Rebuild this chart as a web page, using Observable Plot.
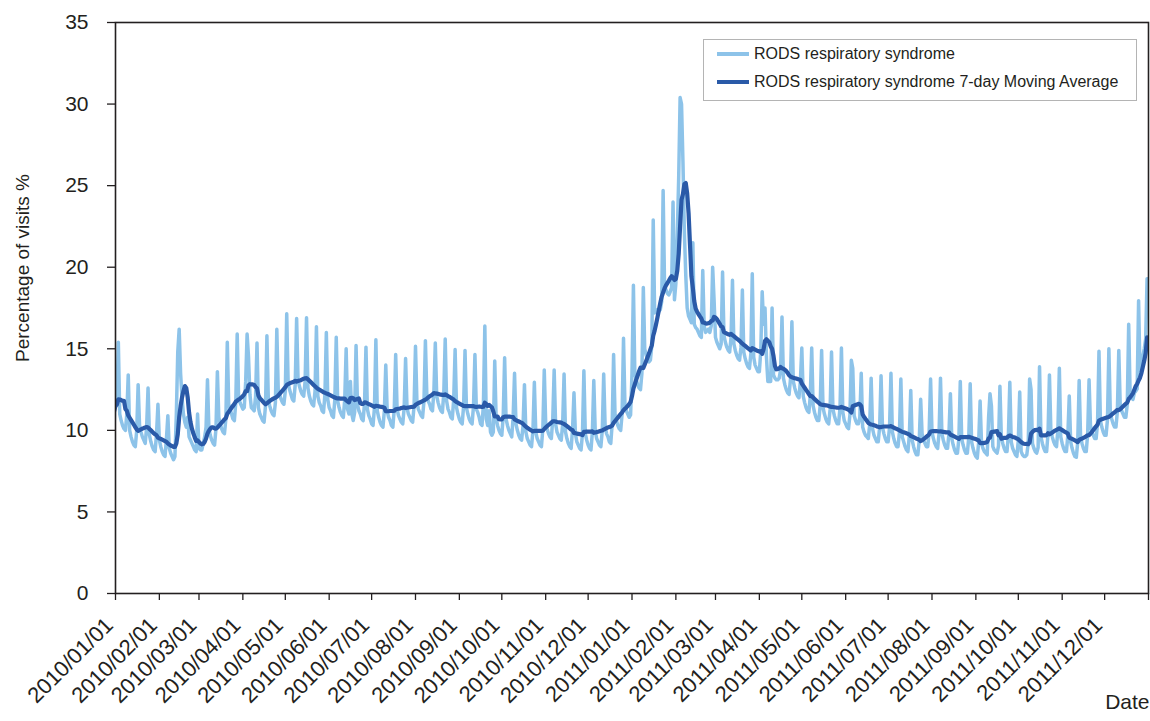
<!DOCTYPE html>
<html><head><meta charset="utf-8">
<script src="https://cdn.jsdelivr.net/npm/d3@7"></script>
<script src="https://cdn.jsdelivr.net/npm/@observablehq/plot@0.6"></script>
<style>
body{margin:0;background:#fff;}
#wrap{position:relative;width:1150px;height:721px;font-family:"Liberation Sans",Arial,sans-serif;}
#legend{position:absolute;left:703px;top:39px;width:432px;height:60px;border:1px solid #b4b4b4;background:#fff;font-size:16px;color:#231f20;}
.item{position:absolute;left:13px;display:flex;align-items:center;height:20px;}
.sw{width:32px;height:4.5px;margin-right:5px;}
</style></head><body><div id="wrap"></div>
<script>
// series names, colours
const seriesNames = ["RODS respiratory syndrome", "RODS respiratory syndrome 7-day Moving Average"];
const seriesColors = ["#8dc3e9", "#2a5aa8"];
const yLabel = "Percentage of visits %";
const xLabel = "Date";
const yTicks = [0, 5, 10, 15, 20, 25, 30, 35];
const monthTickLabels = ["2010/01/01","2010/02/01","2010/03/01","2010/04/01","2010/05/01","2010/06/01",
  "2010/07/01","2010/08/01","2010/09/01","2010/10/01","2010/11/01","2010/12/01",
  "2011/01/01","2011/02/01","2011/03/01","2011/04/01","2011/05/01","2011/06/01",
  "2011/07/01","2011/08/01","2011/09/01","2011/10/01","2011/11/01","2011/12/01"];
const axisStart = "2010/01/01";
const axisEnd = "2012/01/01";

// daily % of visits, starting 2009/12/26 (last days of 2009 feed the moving average)
const firstDay = "2009/12/26";
const daily2009 = [11.2, 13.2, 11.1, 10.8, 10.6, 10.1];
const daily2010 = [
  13.5, 11.8,
  15.4, 11.0, 10.6, 10.3, 10.1, 10.0, 11.0,
  13.4, 10.0, 9.6, 9.3, 9.1, 9.0, 10.0,
  12.8, 10.3, 9.9, 9.6, 9.4, 9.2, 10.2,
  12.6, 9.7, 9.3, 9.0, 8.8, 8.7, 9.8,
  11.6, 9.4, 9.0, 8.7, 8.5, 8.4, 9.5,
  10.9, 8.9, 8.6, 8.4, 8.2, 8.4, 11.0,
  14.8, 16.2, 13.5, 12.0, 11.0, 10.5, 10.2,
  10.8, 9.6, 9.4, 9.2, 9.0, 8.8, 8.7,
  11.0, 8.9, 8.8, 8.8, 9.2, 9.6, 10.2,
  13.1, 10.1, 9.7, 9.4, 9.2, 9.1, 10.1,
  13.6, 10.8, 10.4, 10.1, 9.9, 9.8, 10.7,
  15.4, 11.6, 11.3, 11.0, 10.7, 10.6, 11.7,
  15.9, 12.0, 11.7, 11.5, 11.3, 11.4, 13.0,
  15.9, 14.5, 12.2, 11.4, 11.3, 11.2, 12.1,
  15.35, 11.4, 11.0, 10.8, 10.6, 10.5, 11.5,
  15.8, 11.9, 11.5, 11.2, 11.0, 10.9, 11.7,
  16.2, 12.5, 12.2, 11.9, 11.7, 11.6, 12.4,
  17.15, 12.9, 12.5, 12.2, 11.9, 11.8, 12.8,
  16.85, 13.1, 12.7, 12.4, 12.2, 12.1, 13.0,
  16.9, 12.6, 12.1, 11.8, 11.6, 11.5, 12.4,
  16.35, 12.1, 11.7, 11.5, 11.2, 11.1, 12.2,
  16.0, 11.9, 11.4, 11.2, 10.9, 10.8, 11.9,
  15.7, 11.8, 11.4, 11.1, 10.9, 10.8, 11.9,
  15.0, 11.3, 11.0, 13.0, 11.0, 10.6, 11.1,
  15.2, 11.6, 11.2, 11.0, 10.7, 10.6, 11.7,
  15.1, 11.3, 10.9, 10.7, 10.4, 10.3, 11.4,
  15.55, 11.2, 10.8, 10.5, 10.3, 10.2, 11.2,
  14.0, 11.2, 10.8, 10.6, 10.3, 10.2, 11.3,
  14.65, 11.3, 10.9, 10.7, 10.5, 10.4, 11.4,
  14.4, 11.4, 11.0, 10.8, 10.6, 10.5, 11.5,
  15.15, 11.8, 11.3, 11.1, 10.9, 10.8, 11.8,
  15.5, 12.2, 11.8, 11.6, 11.3, 11.2, 12.4,
  15.35, 12.1, 11.7, 11.4, 11.2, 11.1, 12.3,
  15.6, 11.8, 11.3, 11.1, 10.8, 10.7, 11.9,
  14.95, 11.4, 11.0, 10.7, 10.5, 10.4, 11.5,
  14.9, 11.4, 11.0, 10.7, 10.5, 10.4, 11.5,
  14.65, 11.3, 11.1, 10.8, 10.4, 10.3, 11.6,
  16.4, 10.7, 10.3, 11.2, 9.9, 9.7, 9.9,
  14.25, 10.7, 10.3, 10.0, 9.8, 9.7, 10.9,
  14.45, 10.7, 10.3, 10.0, 9.8, 9.6, 10.8,
  13.5, 10.4, 10.0, 9.7, 9.5, 9.4, 10.3,
  12.8, 9.9, 9.5, 9.3, 9.1, 9.0, 10.0,
  12.95, 9.9, 9.5, 9.3, 9.1, 9.0, 10.1,
  13.7, 10.5, 10.1, 9.8, 9.6, 9.5, 10.7,
  13.7, 10.4, 9.9, 9.7, 9.5, 9.4, 10.4,
  13.45, 9.9, 9.5, 9.2, 9.0, 8.9, 10.1,
  12.3, 9.8, 9.3, 9.1, 8.9, 8.8, 9.8,
  13.65, 9.8, 9.4, 9.1, 8.9, 8.8, 9.9,
  13.05, 10.0, 9.5, 9.3, 9.1, 9.0, 10.0,
  13.45, 10.3, 9.8, 9.6, 9.3, 9.2, 10.4,
  14.65, 11.0, 10.6, 10.3, 10.1, 10.0, 11.0,
  15.65, 11.6, 11.2, 11.0, 10.8, 10.95
];
const daily2011 = [
  13.5,
  18.9, 13.5, 13.1, 12.8, 12.6, 12.5, 13.5,
  18.75, 15.0, 14.6, 14.4, 14.2, 14.3, 15.2,
  22.9, 17.2, 17.3, 17.4, 17.3, 17.4, 17.9,
  24.7, 18.9, 18.6, 18.4, 18.3, 18.5, 18.75,
  24.0, 18.0, 19.0, 22.0, 25.5, 30.4, 30.0,
  26.5, 22.2, 19.5, 17.5, 17.0, 16.8, 16.6,
  21.5, 16.5, 16.3, 16.2, 16.0, 15.8, 15.7,
  19.8, 16.4, 16.0, 16.1, 16.2, 16.0, 16.4,
  20.0, 18.0, 15.7, 15.4, 15.2, 15.0, 15.3,
  19.7, 15.8, 15.4, 15.1, 14.9, 14.8, 15.7,
  19.2, 15.3, 14.9, 14.6, 14.4, 14.3, 15.1,
  18.6, 14.8, 14.4, 14.1, 13.9, 13.8, 14.7,
  19.6, 14.5, 14.0, 13.8, 13.6, 13.6, 14.85,
  18.5, 16.5, 17.5, 14.5, 13.0, 13.0, 13.0,
  17.5, 13.4, 13.2, 13.1, 13.1, 13.2, 13.7,
  16.95, 13.2, 12.8, 12.5, 12.3, 12.2, 13.15,
  16.65, 13.0, 12.6, 12.3, 12.1, 12.0, 13.05,
  15.05, 12.1, 11.7, 11.4, 11.2, 11.1, 12.15,
  15.05, 11.5, 11.1, 10.8, 10.6, 10.6, 11.55,
  14.9, 11.4, 11.0, 10.7, 10.5, 10.4, 11.3,
  14.8, 11.3, 10.9, 10.6, 10.4, 10.4, 11.4,
  15.05, 11.1, 10.6, 10.4, 10.2, 10.1, 10.95,
  14.3, 13.8, 10.9, 10.6, 10.4, 10.4, 10.8,
  13.5, 10.2, 9.9, 9.7, 9.6, 9.5, 10.4,
  13.2, 10.1, 9.7, 9.5, 9.3, 9.3, 10.2,
  13.35, 10.2, 9.8, 9.5, 9.3, 9.3, 10.2,
  13.5, 9.9, 9.5, 9.2, 9.0, 9.0, 9.9,
  13.15, 9.6, 9.3, 9.0, 8.8, 8.7, 9.7,
  12.45, 9.4, 9.0, 8.7, 8.5, 8.5, 9.4,
  11.9, 9.8, 9.4, 9.2, 9.0, 9.0, 9.95,
  13.15, 9.9, 9.5, 9.2, 9.0, 8.9, 9.85,
  13.2, 9.8, 9.4, 9.1, 8.9, 8.9, 9.85,
  12.25, 9.5, 9.1, 8.8, 8.6, 8.6, 9.5,
  13.0, 9.5, 9.1, 8.8, 8.6, 8.6, 9.6,
  12.85, 9.3, 8.9, 8.6, 8.4, 8.3, 9.3,
  11.8, 9.2, 8.9, 8.7, 8.6, 8.5, 10.8,
  12.25, 11.5, 9.0, 8.8, 8.7, 8.6, 9.05,
  12.7, 9.6, 9.2, 8.9, 8.7, 8.7, 9.75,
  12.95, 9.3, 8.9, 8.7, 8.5, 8.4, 9.4,
  12.35, 8.7, 8.5, 8.4, 8.4, 8.5, 9.2,
  13.15, 12.5, 9.2, 8.9, 8.7, 8.6, 8.95,
  13.9, 9.6, 9.2, 8.9, 8.7, 8.7, 9.8,
  13.4, 10.0, 9.6, 9.3, 9.1, 9.0, 10.1,
  13.8, 9.6, 9.2, 8.9, 8.7, 8.7, 9.7,
  12.1, 9.3, 8.9, 8.6, 8.4, 8.35, 9.3,
  13.05, 9.6, 9.2, 8.9, 8.7, 8.7, 9.75,
  13.1, 10.3, 9.9, 9.7, 9.5, 9.5, 10.45,
  14.85, 10.6, 10.2, 9.9, 9.7, 9.7, 10.65,
  15.0, 11.1, 10.7, 10.4, 10.2, 10.2, 11.15,
  14.9, 11.6, 11.2, 11.0, 10.8, 10.8, 11.6,
  16.5, 12.3, 12.0, 11.9, 12.3, 12.4, 12.55,
  17.95, 13.5, 14.0, 14.55, 15.0, 15.6, 19.3
];

const parse = d3.utcParse("%Y/%m/%d");
const fmt = d3.utcFormat("%Y/%m/%d");
const start = parse(firstDay);
const values = [...daily2009, ...daily2010, ...daily2011];
const rows = values.map((v, i) => ({date: d3.utcDay.offset(start, i), value: v}));
const tickDates = [...monthTickLabels, axisEnd].map(parse);
const labelSet = new Set(monthTickLabels);

const chart = Plot.plot({
  width: 1150, height: 721,
  marginLeft: 115, marginRight: 2, marginTop: 22, marginBottom: 128,
  style: {fontFamily: '"Liberation Sans", Arial, sans-serif', fontSize: "21px", color: "#231f20", background: "#fff"},
  x: {type: "utc", domain: [parse(axisStart), parse(axisEnd)]},
  y: {domain: [0, 35]},
  marks: [
    Plot.lineY(rows, {x: "date", y: "value", stroke: seriesColors[0], strokeWidth: 3.5, strokeLinejoin: "round", clip: true}),
    Plot.lineY(rows, Plot.windowY({k: 7, anchor: "end", reduce: "mean"},
      {x: "date", y: "value", stroke: seriesColors[1], strokeWidth: 4.2, strokeLinejoin: "round", clip: true})),
    Plot.frame({stroke: "#231f20", strokeWidth: 1.6}),
    Plot.axisY({ticks: yTicks, tickSize: 8, tickPadding: 19, strokeWidth: 1.3, fontSize: 21, label: null}),
    // tick marks only
    Plot.axisX({ticks: tickDates, tickSize: 7, strokeWidth: 1.3, tickFormat: () => "", label: null}),
    // rotated tick labels only
    Plot.axisX({ticks: tickDates, tickSize: 0, tickPadding: 28, tickRotate: -45, fontSize: 22, dx: -6,
      tickFormat: d => labelSet.has(fmt(d)) ? fmt(d) : "", label: null}),
    Plot.text([yLabel], {text: d => d, frameAnchor: "left", textAnchor: "middle", rotate: -90, dx: -93, dy: -40, fontSize: 19}),
    Plot.text([xLabel], {text: d => d, frameAnchor: "bottom-right", textAnchor: "end", dx: 1, dy: 115, fontSize: 21})
  ]
});
const wrap = document.getElementById("wrap");
wrap.appendChild(chart);

// legend inside the plot area
const legend = document.createElement("div");
legend.id = "legend";
seriesNames.forEach((name, i) => {
  const item = document.createElement("div");
  item.className = "item";
  item.style.top = (i === 0 ? 4 : 32) + "px";
  const sw = document.createElement("span");
  sw.className = "sw";
  sw.style.background = seriesColors[i];
  const t = document.createElement("span");
  t.textContent = name;
  item.appendChild(sw); item.appendChild(t);
  legend.appendChild(item);
});
wrap.appendChild(legend);
</script></body></html>
